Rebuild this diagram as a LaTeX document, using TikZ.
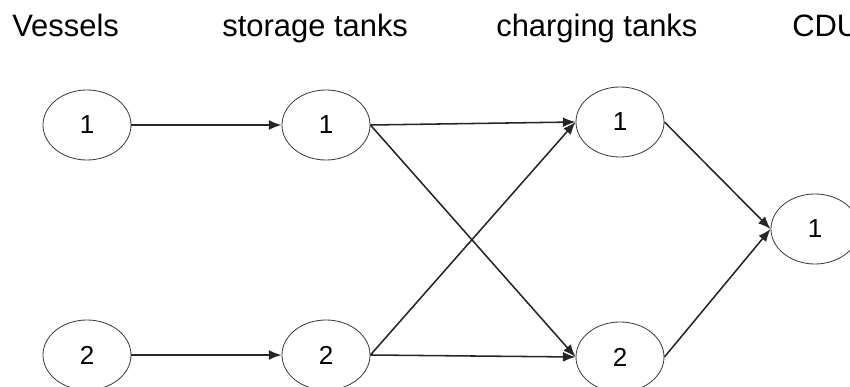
\documentclass[tikz,border=0pt]{standalone}
\usepackage{fontspec}
\setmainfont{Liberation Sans}
\usepackage{tikz}
\usetikzlibrary{shapes.geometric, arrows.meta}

\begin{document}
\begin{tikzpicture}[x=0.025cm, y=-0.025cm, >={Latex[length=9pt, width=7pt]},
    tank/.style={ellipse, draw=black!75, line width=0.6pt, minimum width=2.2cm,
        minimum height=1.75cm, inner sep=0pt,
        font=\fontsize{18.5}{20}\selectfont},
    flow/.style={->, line width=1.1pt, black!85},
    head/.style={anchor=base west, inner sep=0pt, font=\fontsize{22}{24}\selectfont}]
    \useasboundingbox (0,0) rectangle (850,387);

    % 1. Tiêu đề các cột
    \node[head] (hv) at (12,37) {Vessels};
    \node[head] (hs) at (222,37) {storage tanks};
    \node[head] (hc) at (496,37) {charging tanks};
    \node[head] (hd) at (792,37) {CDU};

    % 2. Các bể
    \node[tank] (v1) at (87,125) {1};
    \node[tank] (v2) at (87,355) {2};
    \node[tank] (s1) at (326,125) {1};
    \node[tank] (s2) at (326,355) {2};
    \node[tank] (c1) at (620,122) {1};
    \node[tank] (c2) at (620,357) {2};
    \node[tank] (cdu) at (815,229) {1};

    % 3. Dòng chảy
    \draw[flow] (v1) -- (s1);
    \draw[flow] (v2) -- (s2);
    \foreach \s in {s1,s2} {
        \foreach \c in {c1,c2} {
            \draw[flow] (\s.east) -- (\c.west);
        }
    }
    \draw[flow] (c1.east) -- (cdu.west);
    \draw[flow] (c2.east) -- (cdu.west);
\end{tikzpicture}
\end{document}
